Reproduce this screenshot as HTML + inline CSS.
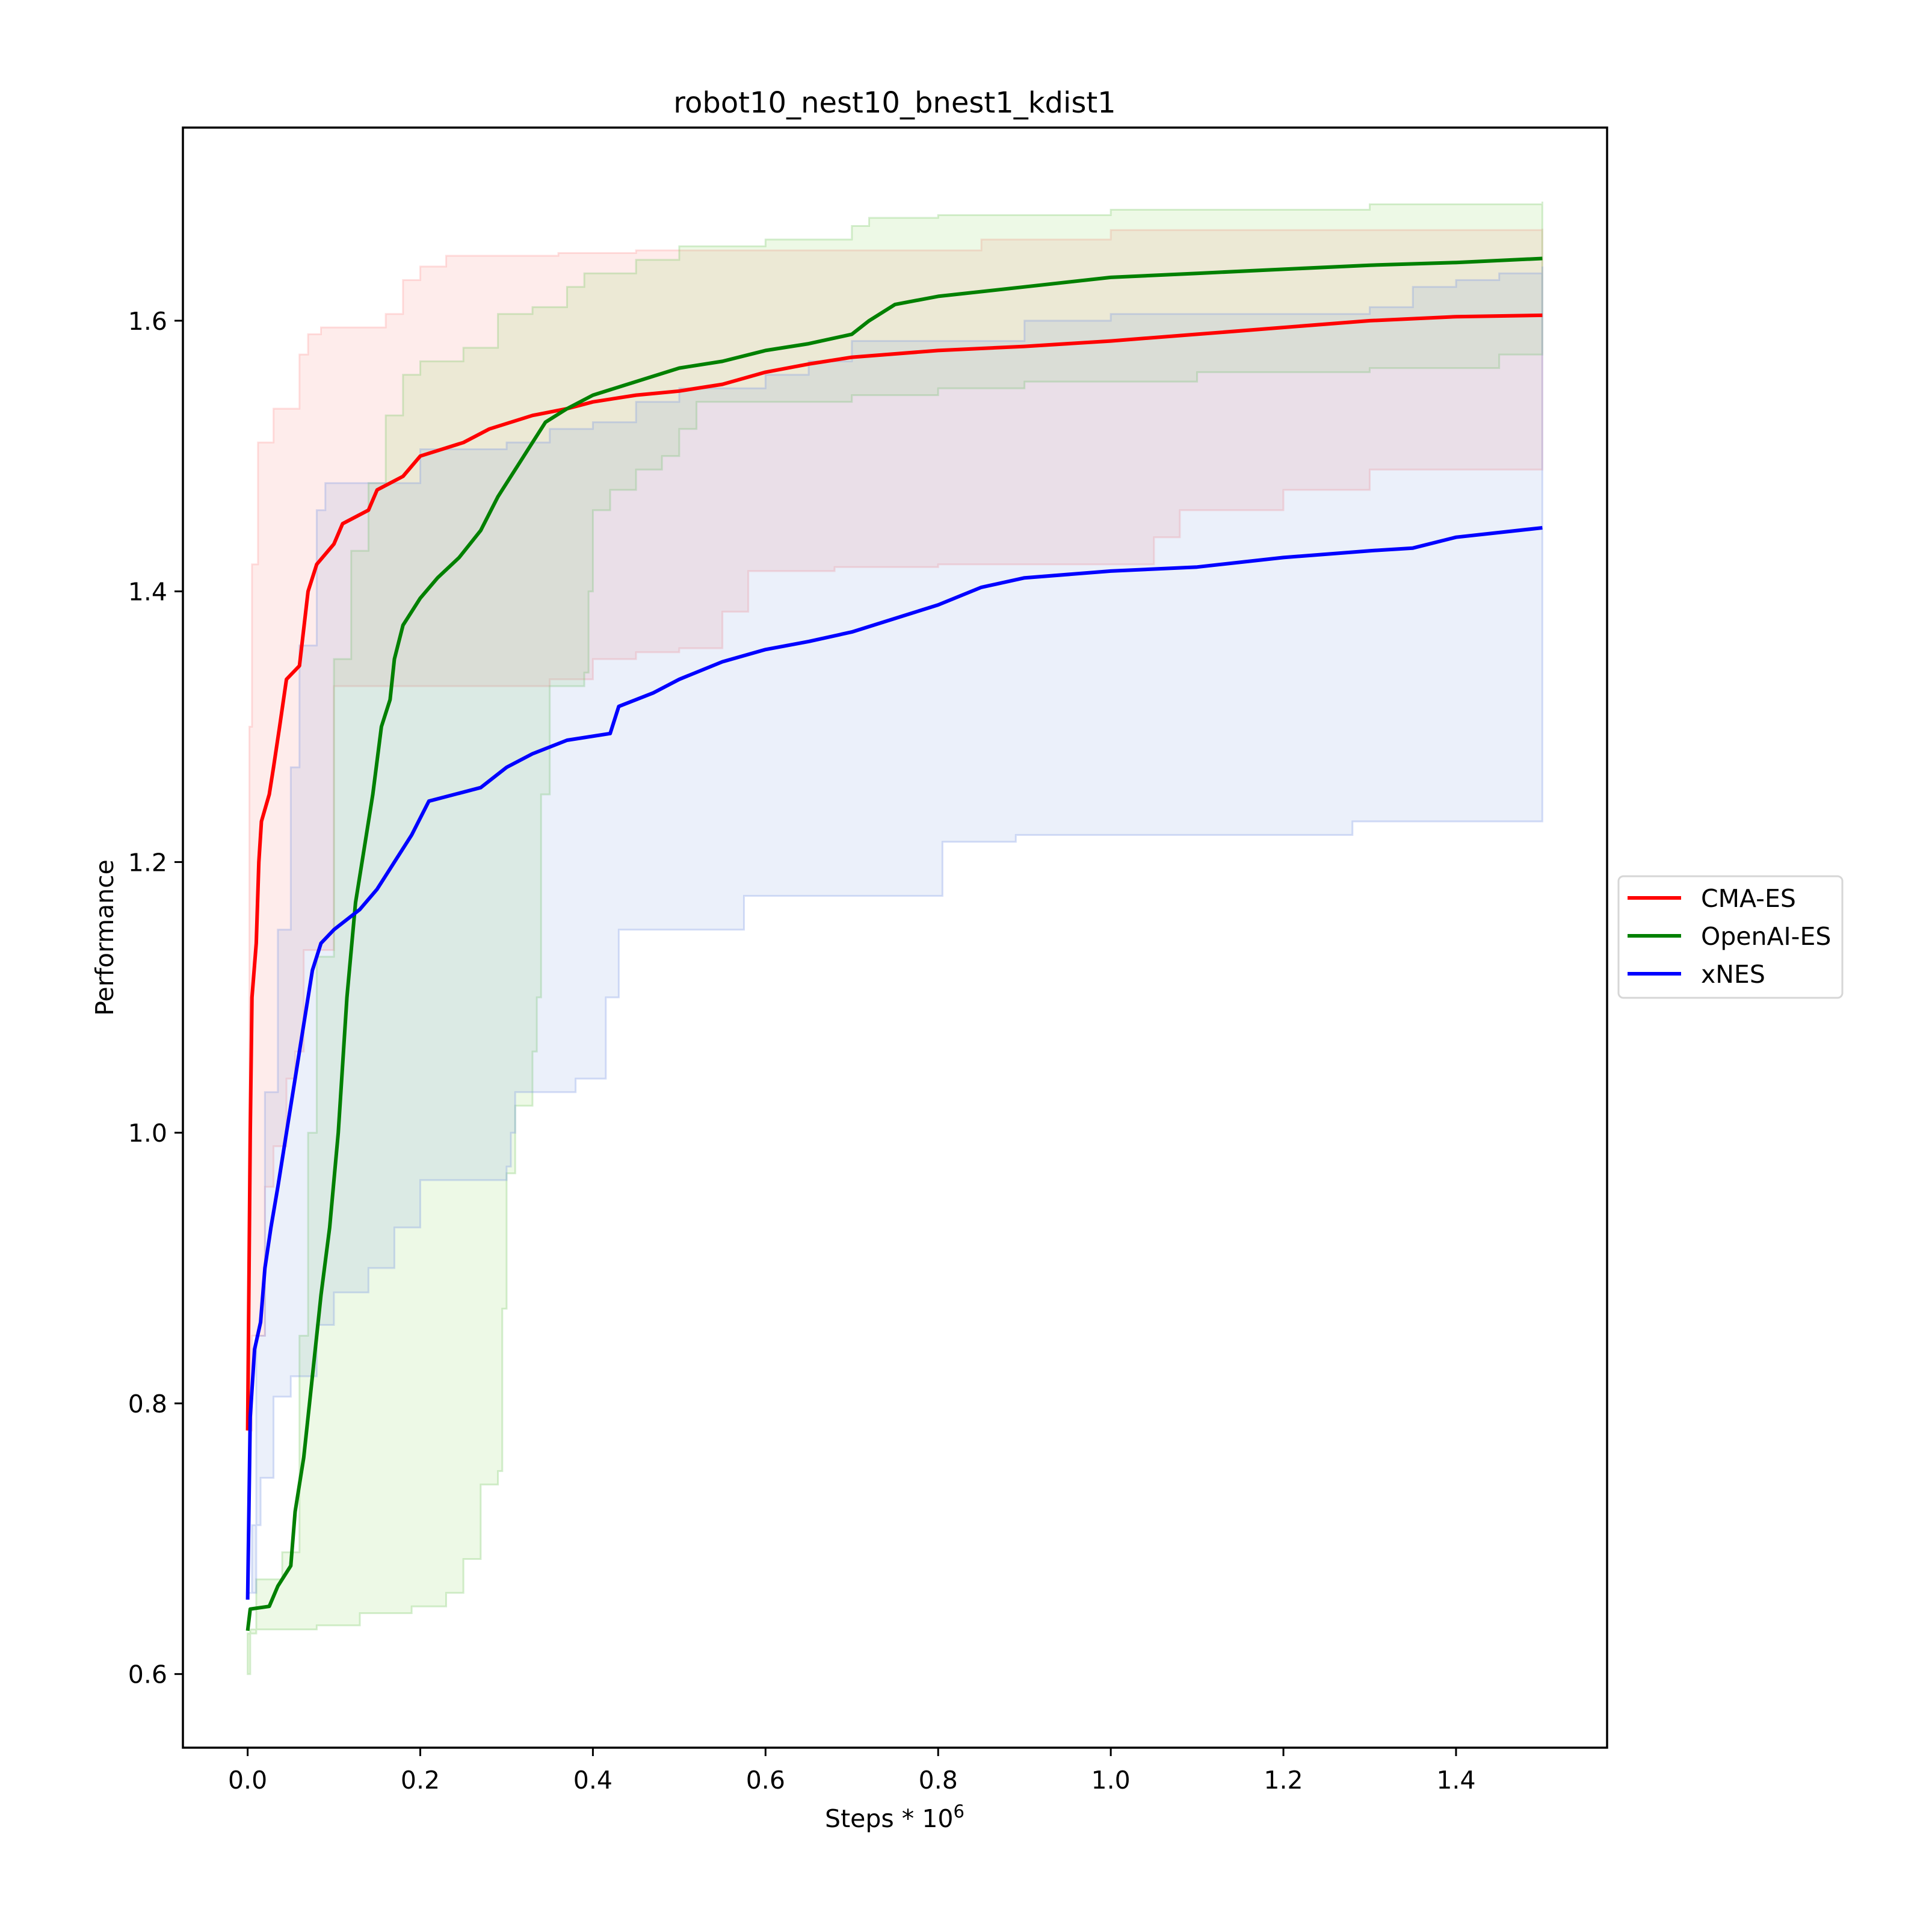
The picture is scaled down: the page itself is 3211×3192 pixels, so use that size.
<!DOCTYPE html>
<html><head><meta charset="utf-8"><style>
html,body{margin:0;padding:0;background:#fff;}
svg{display:block;font-family:"DejaVu Sans","Liberation Sans",sans-serif;}
</style></head><body>
<svg id="chart" width="3211" height="3192" viewBox="0 0 3211 3192" xmlns="http://www.w3.org/2000/svg">
<rect width="3211" height="3192" fill="#fff"/>
<g id="bands"></g>
<g id="lines"></g>
<rect x="304" y="212" width="2367" height="2692" fill="none" stroke="#000" stroke-width="3.5"/>
<g id="xticks"></g>
<g id="yticks"></g>
<text x="1487" y="187" font-size="48" text-anchor="middle">robot10_nest10_bnest1_kdist1</text>
<text x="1487" y="3036" font-size="41" text-anchor="middle">Steps * 10<tspan dy="-16" font-size="29">6</tspan></text>
<text x="0" y="0" font-size="41" text-anchor="middle" transform="translate(188,1558) rotate(-90)">Performance</text>
<g>
<rect x="2690" y="1456" width="372" height="202" rx="8" fill="#fff" stroke="#d6d6d6" stroke-width="3"/>
<line x1="2705" y1="1492" x2="2794" y2="1492" stroke="#ff0000" stroke-width="6"/>
<text x="2827" y="1507" font-size="41">CMA-ES</text>
<line x1="2705" y1="1555" x2="2794" y2="1555" stroke="#008000" stroke-width="6"/>
<text x="2827" y="1570" font-size="41">OpenAI-ES</text>
<line x1="2705" y1="1618" x2="2794" y2="1618" stroke="#0000ff" stroke-width="6"/>
<text x="2827" y="1633" font-size="41">xNES</text>
</g>
</svg>
<script>
const xTicks=[0,0.2,0.4,0.6,0.8,1.0,1.2,1.4];
const xTickLabels=["0.0","0.2","0.4","0.6","0.8","1.0","1.2","1.4"];
const yTicks=[0.6,0.8,1.0,1.2,1.4,1.6];
const yTickLabels=["0.6","0.8","1.0","1.2","1.4","1.6"];

const cmaMeanX=[0,0.003,0.005,0.01,0.013,0.016,0.025,0.03,0.037,0.045,0.06,0.07,0.08,0.1,0.11,0.14,0.15,0.18,0.2,0.25,0.28,0.33,0.37,0.4,0.45,0.5,0.55,0.6,0.65,0.7,0.8,0.9,1.0,1.1,1.2,1.3,1.4,1.5];
const cmaMeanY=[0.78,1.0,1.1,1.14,1.2,1.23,1.25,1.27,1.3,1.335,1.345,1.4,1.42,1.435,1.45,1.46,1.475,1.485,1.5,1.51,1.52,1.53,1.535,1.54,1.545,1.548,1.553,1.562,1.568,1.573,1.578,1.581,1.585,1.59,1.595,1.6,1.603,1.604];
const oaiMeanX=[0,0.003,0.025,0.035,0.05,0.055,0.065,0.075,0.085,0.095,0.105,0.115,0.125,0.135,0.145,0.155,0.165,0.17,0.18,0.2,0.22,0.245,0.27,0.29,0.31,0.33,0.345,0.37,0.4,0.45,0.5,0.55,0.6,0.65,0.7,0.72,0.75,0.8,0.9,1.0,1.1,1.2,1.3,1.4,1.5];
const oaiMeanY=[0.632,0.648,0.65,0.665,0.68,0.72,0.76,0.82,0.88,0.93,1.0,1.1,1.17,1.21,1.25,1.3,1.32,1.35,1.375,1.395,1.41,1.425,1.445,1.47,1.49,1.51,1.525,1.535,1.545,1.555,1.565,1.57,1.578,1.583,1.59,1.6,1.612,1.618,1.625,1.632,1.635,1.638,1.641,1.643,1.646];
const xnesMeanX=[0,0.003,0.008,0.015,0.02,0.027,0.035,0.045,0.055,0.065,0.075,0.085,0.1,0.13,0.15,0.17,0.19,0.21,0.27,0.3,0.33,0.37,0.42,0.43,0.47,0.5,0.55,0.6,0.65,0.7,0.75,0.8,0.85,0.9,1.0,1.1,1.2,1.3,1.35,1.4,1.5];
const xnesMeanY=[0.655,0.79,0.84,0.86,0.9,0.93,0.96,1.0,1.04,1.08,1.12,1.14,1.15,1.165,1.18,1.2,1.22,1.245,1.255,1.27,1.28,1.29,1.295,1.315,1.325,1.335,1.348,1.357,1.363,1.37,1.38,1.39,1.403,1.41,1.415,1.418,1.425,1.43,1.432,1.44,1.447];

const cmaUpX=[0,0.002,0.005,0.012,0.03,0.06,0.07,0.085,0.16,0.18,0.2,0.23,0.36,0.45,0.85,1.0,1.5];
const cmaUpY=[0.8,1.3,1.42,1.51,1.535,1.575,1.59,1.595,1.605,1.63,1.64,1.648,1.65,1.652,1.66,1.667,1.668];
const cmaLoX=[0,0.005,0.02,0.03,0.045,0.055,0.065,0.1,0.35,0.4,0.45,0.5,0.55,0.58,0.68,0.8,1.05,1.08,1.2,1.3,1.5];
const cmaLoY=[0.78,0.85,0.96,0.99,1.04,1.06,1.135,1.33,1.335,1.35,1.355,1.358,1.385,1.415,1.418,1.42,1.44,1.46,1.475,1.49,1.49];
const oaiUpX=[0,0.01,0.04,0.06,0.07,0.08,0.1,0.12,0.14,0.16,0.18,0.2,0.25,0.29,0.33,0.37,0.39,0.45,0.5,0.6,0.7,0.72,0.8,1.0,1.3,1.5];
const oaiUpY=[0.63,0.67,0.69,0.85,1.0,1.13,1.35,1.43,1.48,1.53,1.56,1.57,1.58,1.605,1.61,1.625,1.635,1.645,1.655,1.66,1.67,1.676,1.678,1.682,1.686,1.688];
const oaiLoX=[0,0.003,0.05,0.08,0.13,0.19,0.23,0.25,0.27,0.29,0.295,0.3,0.31,0.33,0.335,0.34,0.35,0.39,0.395,0.4,0.42,0.45,0.48,0.5,0.52,0.7,0.8,0.9,1.1,1.3,1.45,1.5];
const oaiLoY=[0.6,0.633,0.633,0.636,0.645,0.65,0.66,0.685,0.74,0.75,0.87,0.97,1.02,1.06,1.1,1.25,1.33,1.34,1.4,1.46,1.475,1.49,1.5,1.52,1.54,1.545,1.55,1.555,1.562,1.565,1.575,1.58];
const xnesUpX=[0,0.01,0.02,0.035,0.05,0.06,0.08,0.09,0.2,0.3,0.35,0.4,0.45,0.5,0.6,0.65,0.7,0.9,1.0,1.3,1.35,1.4,1.45,1.5];
const xnesUpY=[0.66,0.85,1.03,1.15,1.27,1.36,1.46,1.48,1.505,1.51,1.52,1.525,1.54,1.55,1.56,1.57,1.585,1.6,1.605,1.61,1.625,1.63,1.635,1.64];
const xnesLoX=[0,0.005,0.015,0.03,0.05,0.08,0.1,0.14,0.17,0.2,0.3,0.305,0.31,0.35,0.38,0.41,0.415,0.43,0.57,0.575,0.8,0.805,0.89,1.26,1.28,1.5];
const xnesLoY=[0.66,0.71,0.745,0.805,0.82,0.858,0.882,0.9,0.93,0.965,0.975,1.0,1.03,1.03,1.04,1.04,1.1,1.15,1.15,1.175,1.175,1.215,1.22,1.22,1.23,1.232];

const NS="http://www.w3.org/2000/svg";
const X0=304,X1=2671,Y0=2904,Y1=212,XMIN=-0.075,XMAX=1.575,YMIN=0.5456,YMAX=1.7427;
function sx(v){return X0+(v-XMIN)/(XMAX-XMIN)*(X1-X0);}
function sy(v){return Y0-(v-YMIN)/(YMAX-YMIN)*(Y0-Y1);}
function stepPts(xs,ys){const p=[];for(let i=0;i<xs.length;i++){if(i>0)p.push([sx(xs[i]),sy(ys[i-1])]);p.push([sx(xs[i]),sy(ys[i])]);}return p;}
function linPts(xs,ys){return xs.map((x,i)=>[sx(x),sy(ys[i])]);}
function toD(p){return p.map((q,i)=>(i?'L':'M')+q[0].toFixed(1)+' '+q[1].toFixed(1)).join(' ');}

const bands=document.getElementById('bands');
function band(ux,uy,lx,ly,fill,stroke,name){
  const up=stepPts(ux,uy),lo=stepPts(lx,ly).reverse();
  const el=document.createElementNS(NS,'path');
  el.setAttribute('d',toD(up.concat(lo))+' Z');
  el.setAttribute('fill',fill);el.setAttribute('stroke',stroke);el.setAttribute('stroke-width','3');
  
  
  bands.appendChild(el);
}
band(cmaUpX,cmaUpY,cmaLoX,cmaLoY,'rgba(245,120,110,0.14)','rgba(255,150,150,0.3)','cma-es-band');
band(oaiUpX,oaiUpY,oaiLoX,oaiLoY,'rgba(140,220,100,0.16)','rgba(120,200,100,0.3)','openai-es-band');
band(xnesUpX,xnesUpY,xnesLoX,xnesLoY,'rgba(110,150,220,0.14)','rgba(120,150,230,0.3)','xnes-band');

const lines=document.getElementById('lines');
function line(xs,ys,color,name){
  const el=document.createElementNS(NS,'path');
  el.setAttribute('d',toD(linPts(xs,ys)));
  el.setAttribute('fill','none');el.setAttribute('stroke',color);el.setAttribute('stroke-width','6');
  el.setAttribute('stroke-linejoin','round');
  
  
  lines.appendChild(el);
}
line(cmaMeanX,cmaMeanY,'#ff0000','cma-es-line');
line(oaiMeanX,oaiMeanY,'#008000','openai-es-line');
line(xnesMeanX,xnesMeanY,'#0000ff','xnes-line');

const xg=document.getElementById('xticks');
xTicks.forEach((v,i)=>{
  const x=sx(v);
  const t=document.createElementNS(NS,'line');
  t.setAttribute('x1',x);t.setAttribute('x2',x);t.setAttribute('y1',Y0);t.setAttribute('y2',Y0+14);
  t.setAttribute('stroke','#000');t.setAttribute('stroke-width','3');
  
  
  xg.appendChild(t);
  const l=document.createElementNS(NS,'text');
  l.setAttribute('x',x);l.setAttribute('y',Y0+68);l.setAttribute('font-size','41');l.setAttribute('text-anchor','middle');
  l.textContent=xTickLabels[i];
  
  
  xg.appendChild(l);
});
const yg=document.getElementById('yticks');
yTicks.forEach((v,i)=>{
  const y=sy(v);
  const t=document.createElementNS(NS,'line');
  t.setAttribute('x1',X0-14);t.setAttribute('x2',X0);t.setAttribute('y1',y);t.setAttribute('y2',y);
  t.setAttribute('stroke','#000');t.setAttribute('stroke-width','3');
  
  
  yg.appendChild(t);
  const l=document.createElementNS(NS,'text');
  l.setAttribute('x',X0-26);l.setAttribute('y',y+15);l.setAttribute('font-size','41');l.setAttribute('text-anchor','end');
  l.textContent=yTickLabels[i];
  
  
  yg.appendChild(l);
});
</script>
</body></html>
